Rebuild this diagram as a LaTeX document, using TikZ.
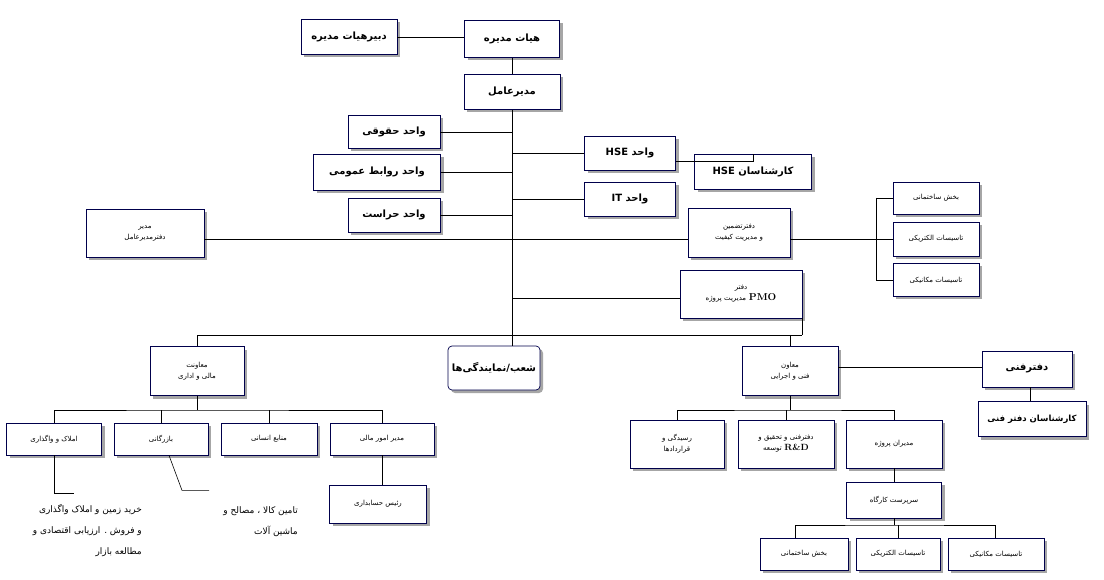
\documentclass[tikz,border=0pt]{standalone}
\usepackage{fontspec}
\usetikzlibrary{shadows}
\newfontfamily\farsi[Script=Arabic]{DejaVu Sans}
\TeXXeTstate=1
\newcommand\R[1]{{\farsi\beginR #1\endR}}
\begin{document}
\begin{tikzpicture}[x=1pt,y=-1pt,
  b/.style 2 args={draw=blue!30!black, fill=white, line width=0.7pt, minimum width=#1pt, minimum height=#2pt, inner sep=1pt, align=center,
    drop shadow={shadow xshift=3pt, shadow yshift=-3pt, fill=gray!70, opacity=1}},
  big/.style={font=\bfseries\fontsize{10}{13}\selectfont},
  sm/.style={font=\fontsize{7}{11}\selectfont},
  ln/.style={line width=0.6pt}]
\useasboundingbox (0,0) rectangle (1104,580);
\fill[white] (0,0) rectangle (1104,580);
% nodes
\node[b={95}{37},big] (board) at (512,39) {\R{هیات مدیره}};
\node[b={96}{35},big] (sec) at (349,37) {\R{دبیرهیات مدیره}};
\node[b={96}{35},big] (ceo) at (512,92) {\R{مدیرعامل}};
\node[b={92}{33},big] (legal) at (394,132) {\R{واحد حقوقی}};
\node[b={127}{36},big] (pr) at (377,172) {\R{واحد روابط عمومی}};
\node[b={92}{34},big] (sec2) at (394,215) {\R{واحد حراست}};
\node[b={91}{34},big] (hse) at (630,153) {\R{واحد HSE}};
\node[b={117}{35},big] (hsex) at (753,172) {\R{کارشناسان HSE}};
\node[b={91}{34},big] (it) at (630,199) {\R{واحد IT}};
\node[b={118}{48},sm] (ceooff) at (145,233) {\R{مدیر}\\\R{دفترمدیرعامل}};
\node[b={102}{49},sm] (qa) at (739,233) {\R{دفترتضمین}\\\R{و مدیریت کیفیت}};
\node[b={86}{32},sm] (q1) at (936,198) {\R{بخش ساختمانی}};
\node[b={86}{34},sm] (q2) at (936,239) {\R{تاسیسات الکتریکی}};
\node[b={86}{33},sm] (q3) at (936,280) {\R{تاسیسات مکانیکی}};
\node[b={122}{48},sm] (pmo) at (741,294) {\R{دفتر}\\\R{مدیریت پروژه} {\bfseries\fontsize{10}{10}\selectfont PMO}};
\node[b={94}{49},sm] (fin) at (197,371) {\R{معاونت}\\\R{مالی و اداری}};
\node[b={92}{44},big,rounded corners=4pt] (br) at (494,368) {\R{شعب/نمایندگی‌ها}};
\node[b={96}{49},sm] (tech) at (790,371) {\R{معاون}\\\R{فنی و اجرایی}};
\node[b={90}{36},big] (to) at (1027,369) {\R{دفترفنی}};
\node[b={108}{35},font=\bfseries\fontsize{8.5}{10}\selectfont] (tox) at (1032,419) {\R{کارشناسان دفتر فنی}};
\node[b={95}{32},sm] (l1) at (54,439) {\R{املاک و واگذاری}};
\node[b={94}{32},sm] (l2) at (161,439) {\R{بازرگانی}};
\node[b={96}{32},sm] (l3) at (269,439) {\R{منابع انسانی}};
\node[b={104}{32},sm] (l4) at (382,439) {\R{مدیر امور مالی}};
\node[b={97}{38},sm] (acc) at (378,504) {\R{رئیس حسابداری}};
\node[b={94}{48},sm] (r1) at (677,444) {\R{رسیدگی و}\\\R{قراردادها}};
\node[b={96}{48},sm] (r2) at (786,444) {\R{دفترفنی و تحقیق و}\\\R{توسعه} {\bfseries\fontsize{9}{9}\selectfont R\&D}};
\node[b={96}{48},sm] (r3) at (894,444) {\R{مدیران پروژه}};
\node[b={95}{36},sm] (site) at (894,500) {\R{سرپرست کارگاه}};
\node[b={88}{32},sm] (s1) at (804,554) {\R{بخش ساختمانی}};
\node[b={84}{32},sm] (s2) at (898,554) {\R{تاسیسات الکتریکی}};
\node[b={96}{32},sm] (s3) at (996,554) {\R{تاسیسات مکانیکی}};
\node[align=right,anchor=north east,font=\fontsize{9}{21}\selectfont,inner sep=0] (t1) at (142,504) {\R{خرید زمین و املاک واگذاری}\\\R{و فروش . ارزیابی اقتصادی و}\\\R{مطالعه بازار}};
\node[align=right,anchor=north east,font=\fontsize{9}{21}\selectfont,inner sep=0] (t2) at (298,506) {\R{تامین کالا ، مصالح و}\\\R{ماشین آلات}};
% coordinates
\coordinate (tb) at (512,335);
\coordinate (ta) at (197,335);
\coordinate (tc) at (802,335);
\coordinate (ly) at (0,239);
\coordinate (br1) at (876,198);
\coordinate (br3) at (876,280);
\coordinate (lb) at (197,410);
\coordinate (rb) at (790,410);
\coordinate (sb) at (894,525);
% connectors
\draw[ln] (sec.east) -- (sec.east -| board.west);
\draw[ln] (board.south) -- (ceo.north);
\draw[ln] (ceo.south) -- (tb);
\draw[ln] (legal.east) -- (legal.east -| ceo);
\draw[ln] (pr.east) -- (pr.east -| ceo);
\draw[ln] (sec2.east) -- (sec2.east -| ceo);
\draw[ln] (hse.west) -- (hse.west -| ceo);
\draw[ln] (it.west) -- (it.west -| ceo);
\draw[ln] ([yshift=-8pt]hse.east) -| (hsex.north);
\draw[ln] (ceooff.east |- ly) -- (qa.west |- ly);
\draw[ln] (qa.east |- ly) -- (q2.west);
\draw[ln] (br1) -- (br3);
\draw[ln] (br1) -- (q1.west);
\draw[ln] (br3) -- (q3.west);
\draw[ln] ([yshift=-4pt]pmo.west) -- ([yshift=-4pt]pmo.west -| ceo);
\draw[ln] (fin.north) -- (ta) -- (tc);
\draw[ln] (tb) -- (tb |- br.north);
\draw[ln] (tc -| tech.north) -- (tech.north);
\draw[ln] (tc) -- (pmo.south -| tc);
\draw[ln] (fin.south) -- (lb);
\draw[ln] (l1.north) |- (lb) -| (l4.north);
\draw[ln] (l2.north) -- (l2.north |- lb);
\draw[ln] (l3.north) -- (l3.north |- lb);
\draw[ln] (l4.south) -- (acc.north -| l4.south);
\draw[ln] (l1.south) -- ++(0,38) -- ++(20,0);
\draw[ln] ([xshift=8pt]l2.south) -- ++(13,35) -- ++(27,0);
\draw[ln] (tech.south) -- (rb);
\draw[ln] (r1.north) |- (rb) -| (r3.north);
\draw[ln] (r2.north) -- (r2.north |- rb);
\draw[ln] ([yshift=4pt]tech.east) -- ([yshift=4pt]tech.east -| to.west);
\draw[ln] ([xshift=3pt]to.south) -- ([xshift=3pt]to.south |- tox.north);
\draw[ln] (r3.south) -- (site.north);
\draw[ln] (site.south) -- (sb);
\draw[ln] (s1.north -| 795,0) |- (sb) -| (s3.north -| 995,0);
\draw[ln] (s2.north) -- (s2.north |- sb);
\end{tikzpicture}
\end{document}
